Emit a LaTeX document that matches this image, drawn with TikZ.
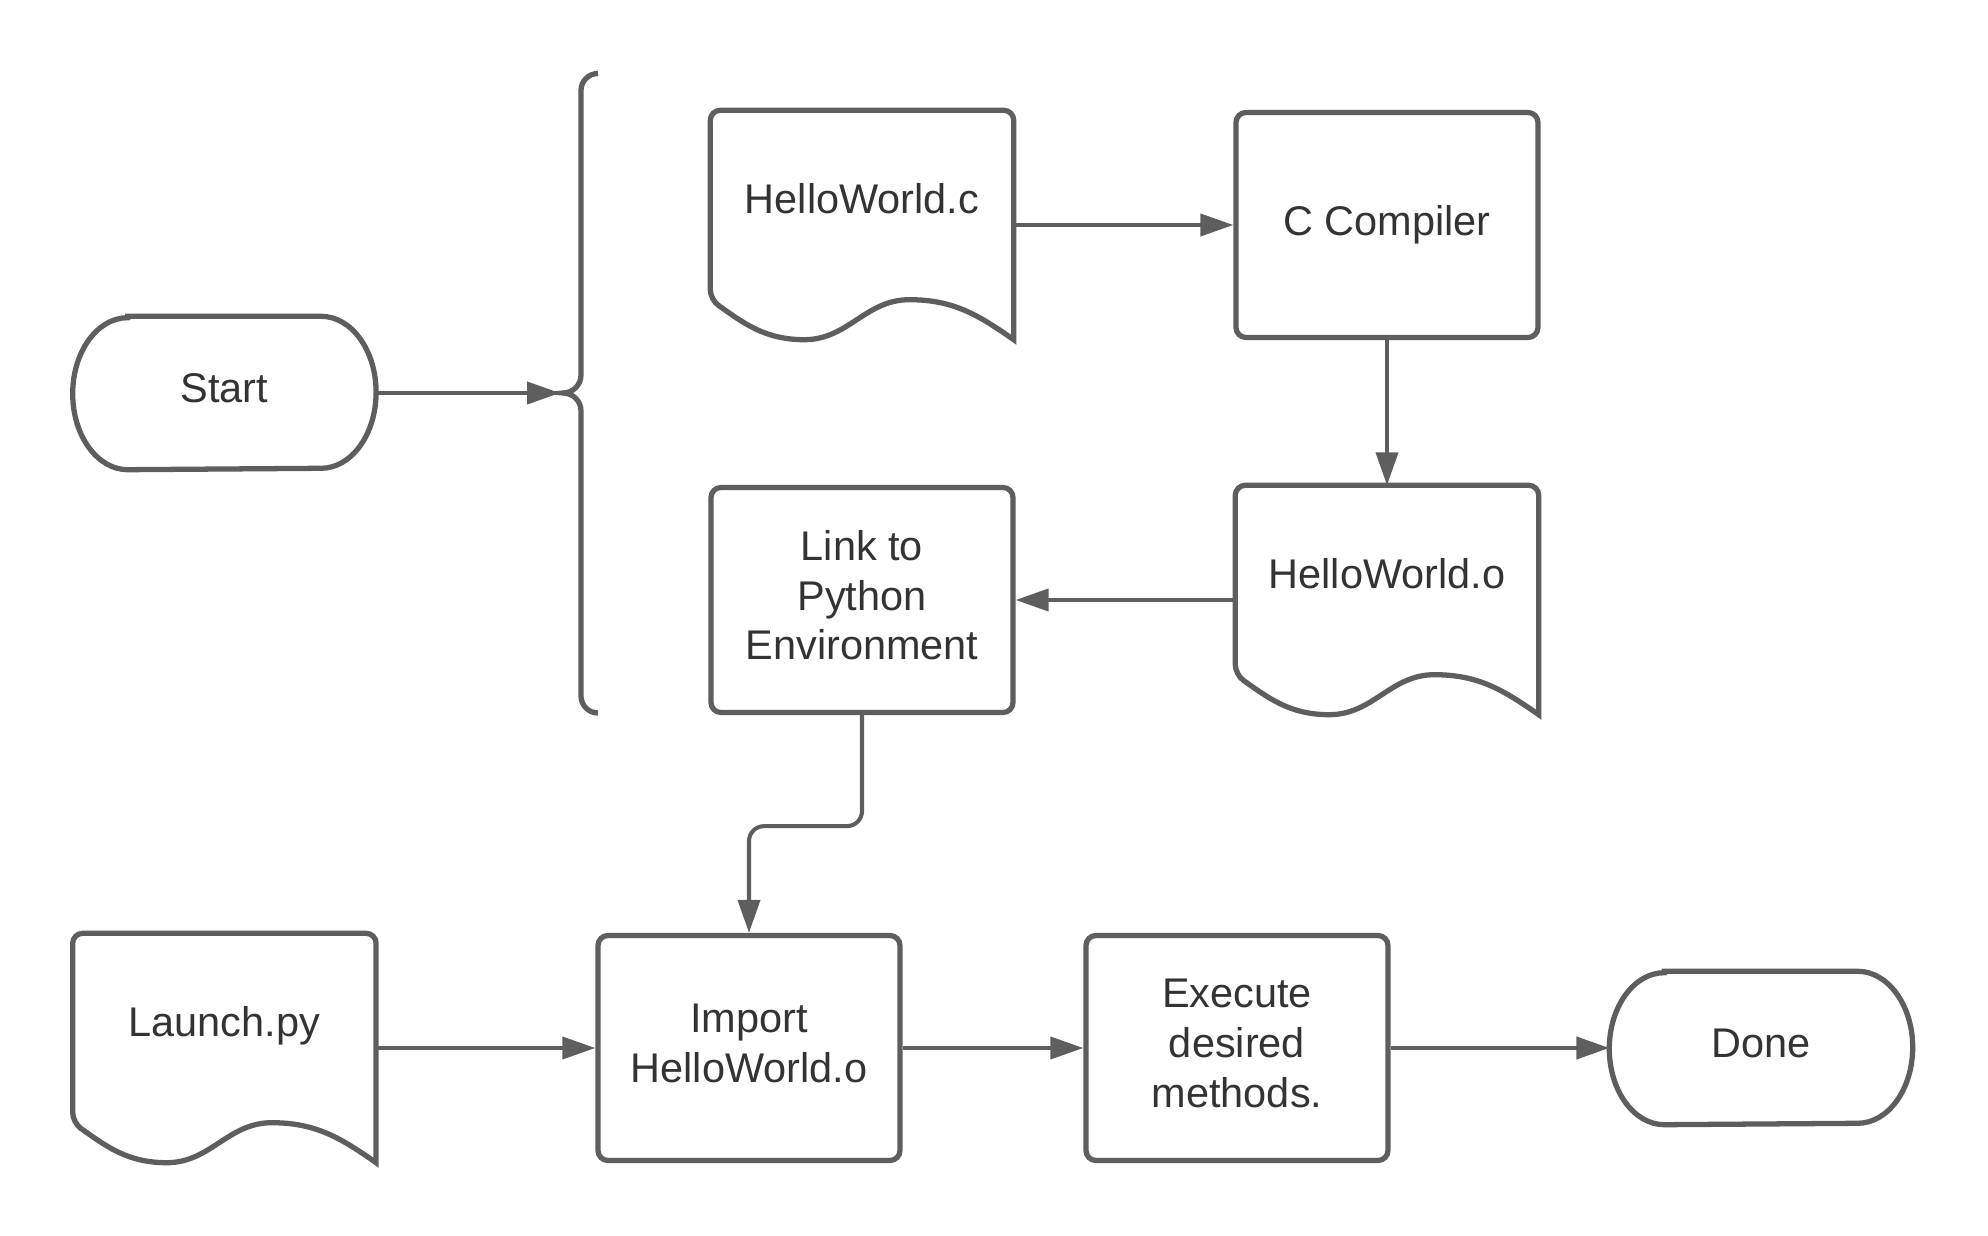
\documentclass[tikz,border=0pt]{standalone}
\usepackage{fontspec}
\setmainfont{Liberation Sans}
\usetikzlibrary{arrows.meta}
\definecolor{linegray}{HTML}{5E5E5E}
\definecolor{txtgray}{HTML}{333333}
% outline of a document node (wavy bottom)
\newcommand{\docoutline}[1]{%
  \draw[outline] ([yshift=0.4cm]#1.south west) to[out=-35,in=180] ([xshift=0.94cm]#1.south west)
    to[out=0,in=180] ([xshift=1.99cm,yshift=0.4cm]#1.south west) to[out=0,in=145] (#1.south east)
    [rounded corners=0.1cm] -- (#1.north east) -- (#1.north west) -- cycle;}
% outline of a terminator node
\newcommand{\termoutline}[1]{%
  \draw[outline] ([xshift=0.55cm]#1.north west) -- ([xshift=-0.55cm]#1.north east)
    arc[start angle=90, end angle=-90, x radius=0.55cm, y radius=0.76cm]
    -- ([xshift=0.55cm]#1.south west)
    arc[start angle=270, end angle=90, x radius=0.55cm, y radius=0.76cm] -- cycle;}

\begin{document}
\begin{tikzpicture}

      \tikzset{outline/.style={draw=linegray, line width=1.5pt},
               box/.style={outline, rounded corners=0.1cm, minimum width=3.02cm, minimum height=2.25cm, inner sep=0pt, text depth=0.1cm, align=center},
               doc/.style={minimum width=3.02cm, minimum height=2.28cm, inner sep=0pt, text height=0.3cm, text depth=0.52cm, align=center},
               term/.style={minimum width=3.02cm, minimum height=1.52cm, inner sep=0pt, text depth=0.1cm},
               arrow/.style={draw=linegray, line width=1.15pt, -{Triangle[length=0.33cm, width=0.22cm]}},
               every node/.style={text=txtgray, font=\fontsize{11.8}{14.2}\selectfont}}
      \useasboundingbox (0,0) rectangle (19.88,-12.36);
%% Shapes
      	\node[term] (start) at (2.244,-3.93) {Start};
      	\termoutline{start}
      	\node[doc] (hwc) at (8.62,-2.25) {HelloWorld.c};
      	\docoutline{hwc}
      	\node[box] (cc) at (13.87,-2.25) {C Compiler};
      	\node[doc] (hwo) at (13.87,-6.0) {HelloWorld.o};
      	\docoutline{hwo}
      	\node[box] (link) at (8.62,-6.0) {Link to\\Python\\Environment};
      	\node[doc] (launch) at (2.244,-10.48) {Launch.py};
      	\docoutline{launch}
      	\node[box] (imp) at (7.49,-10.48) {Import\\HelloWorld.o};
      	\node[box] (exec) at (12.37,-10.48) {Execute\\desired\\methods.};
      	\node[term] (done) at (17.61,-10.48) {Done};
      	\termoutline{done}
%% Brace
      	\coordinate (tip) at (5.6,-3.93);
      	\draw[outline] (5.98,-0.735) arc[start angle=90, end angle=180, radius=0.17cm] -- (5.81,-3.75)
      	  arc[start angle=0, end angle=-90, radius=0.18cm] arc[start angle=90, end angle=0, radius=0.18cm]
      	  -- (5.81,-6.96) arc[start angle=180, end angle=270, radius=0.17cm];
%Arrows
		\path (start) edge[arrow] (tip);
		\path (hwc) edge[arrow] (cc);
		\path (cc) edge[arrow] (hwo);
		\path (hwo) edge[arrow] (link);
		\draw[arrow, rounded corners=0.15cm] (link.south) -- ++(0,-1.11) -| (imp.north);
		\path (launch) edge[arrow] (imp);
		\path (imp) edge[arrow] (exec);
		\path (exec) edge[arrow] (done);

	\end{tikzpicture}
\end{document}
